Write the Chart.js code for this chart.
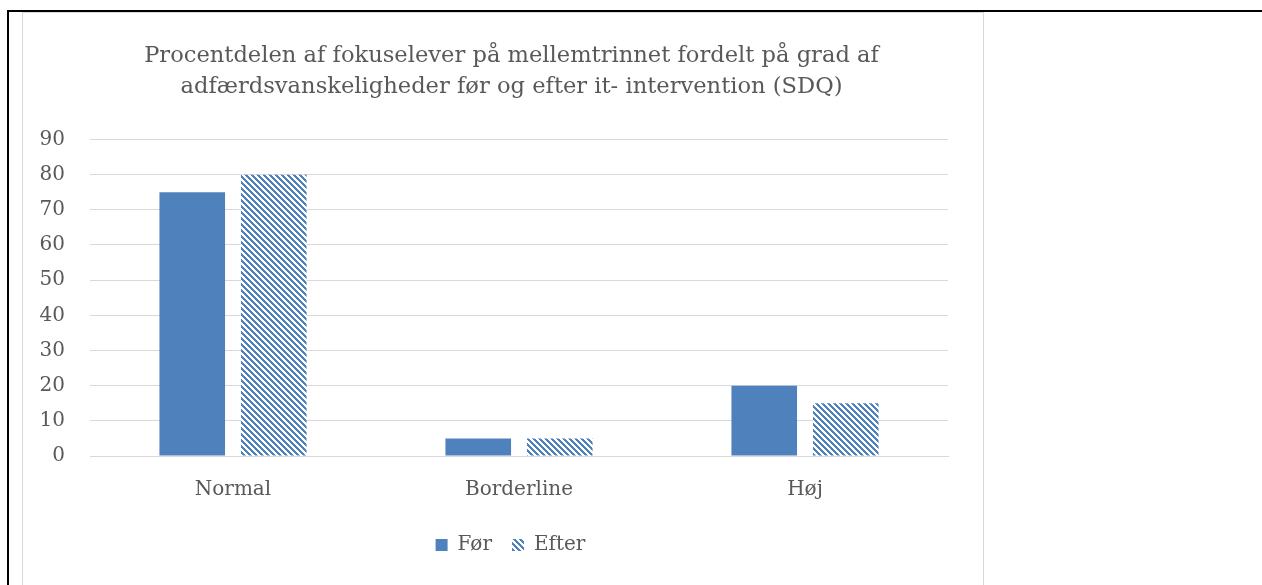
<!DOCTYPE html>
<html>
<head>
<meta charset="utf-8">
<script src="https://cdn.jsdelivr.net/npm/chart.js@4.4.1/dist/chart.umd.min.js"></script>
<style>
  html, body { margin: 0; padding: 0; background: #fff; width: 1262px; height: 585px; overflow: hidden; }
  .rule-top { position: absolute; left: 7px; top: 10px; width: 1255px; height: 2px; background: #000; }
  .rule-left { position: absolute; left: 7px; top: 10px; width: 2px; height: 575px; background: #000; }
  .frame { position: absolute; left: 22px; top: 12px; width: 960px; height: 590px; border: 1px solid #d9d9d9; background: #fff; }
  .frame canvas { display: block; }
</style>
</head>
<body>
<div class="rule-top"></div>
<div class="rule-left"></div>
<div class="frame"><canvas id="myChart" width="960" height="552"></canvas></div>
<script>
let categories = ['Normal', 'Borderline', 'Høj'];
let forValues = [75, 5, 20];
let efterValues = [80, 5, 15];
let yTicks = [0, 10, 20, 30, 40, 50, 60, 70, 80, 90];
let titleLines = ['Procentdelen af fokuselever på mellemtrinnet fordelt på grad af', 'adfærdsvanskeligheder før og efter it- intervention (SDQ)'];

let blue = '#4f81bd';
let grey = '#595959';
let serif = "'DejaVu Serif', serif";

// wide downward diagonal hatch for the "Efter" bars
function hatch() {
  let n = 6;
  let c = document.createElement('canvas');
  c.width = n;
  c.height = n;
  let g = c.getContext('2d');
  g.fillStyle = '#fff';
  g.fillRect(0, 0, n, n);
  g.fillStyle = blue;
  for (let y = 0; y < n; y++) {
    for (let x = 0; x < n; x++) {
      let d = ((x - y) % n + n) % n;
      if (d < 3) g.fillRect(x, y, 1, 1);
    }
  }
  return g.createPattern(c, 'repeat');
}

// title and legend sit a little right of the canvas centre
const nudge = {
  id: 'nudge',
  afterLayout(chart) {
    let t = chart.titleBlock;
    t.left += 26;
    t.right += 26;
    let l = chart.legend;
    l.left += 25;
    l.right += 25;
  }
};

const ctx = document.getElementById('myChart');

new Chart(ctx, {
  type: 'bar',
  data: {
    labels: categories,
    datasets: [{
      label: 'Før',
      data: forValues,
      backgroundColor: blue,
      borderWidth: 0
    }, {
      label: 'Efter',
      data: efterValues,
      backgroundColor: hatch(),
      borderWidth: 0
    }]
  },
  plugins: [nudge],
  options: {
    responsive: false,
    animation: false,
    layout: { padding: { left: 0, right: 35, top: 14, bottom: 0 } },
    categoryPercentage: 0.57,
    barPercentage: 0.805,
    plugins: {
      title: {
        display: true,
        text: titleLines,
        color: grey,
        font: { family: serif, size: 22.6, weight: 'normal', lineHeight: 1.36 },
        padding: { top: 14, bottom: 37 }
      },
      legend: {
        position: 'bottom',
        labels: {
          color: grey,
          font: { family: serif, size: 20 },
          boxWidth: 12,
          boxHeight: 12,
          padding: 20
        }
      },
      tooltip: { enabled: false }
    },
    scales: {
      x: {
        grid: { display: false },
        border: { color: '#d9d9d9' },
        afterFit: (axis) => { axis.height -= 1; },
        ticks: { color: grey, font: { family: serif, size: 20 }, padding: 14 }
      },
      y: {
        min: 0,
        max: 90,
        afterBuildTicks: (axis) => { axis.ticks = yTicks.map(v => ({ value: v })); },
        afterFit: (axis) => { axis.width = 67; },
        grid: { color: '#d9d9d9', drawTicks: false },
        border: { display: false },
        ticks: { color: grey, font: { family: serif, size: 20 }, padding: 25 }
      }
    }
  }
});
</script>
</body>
</html>
